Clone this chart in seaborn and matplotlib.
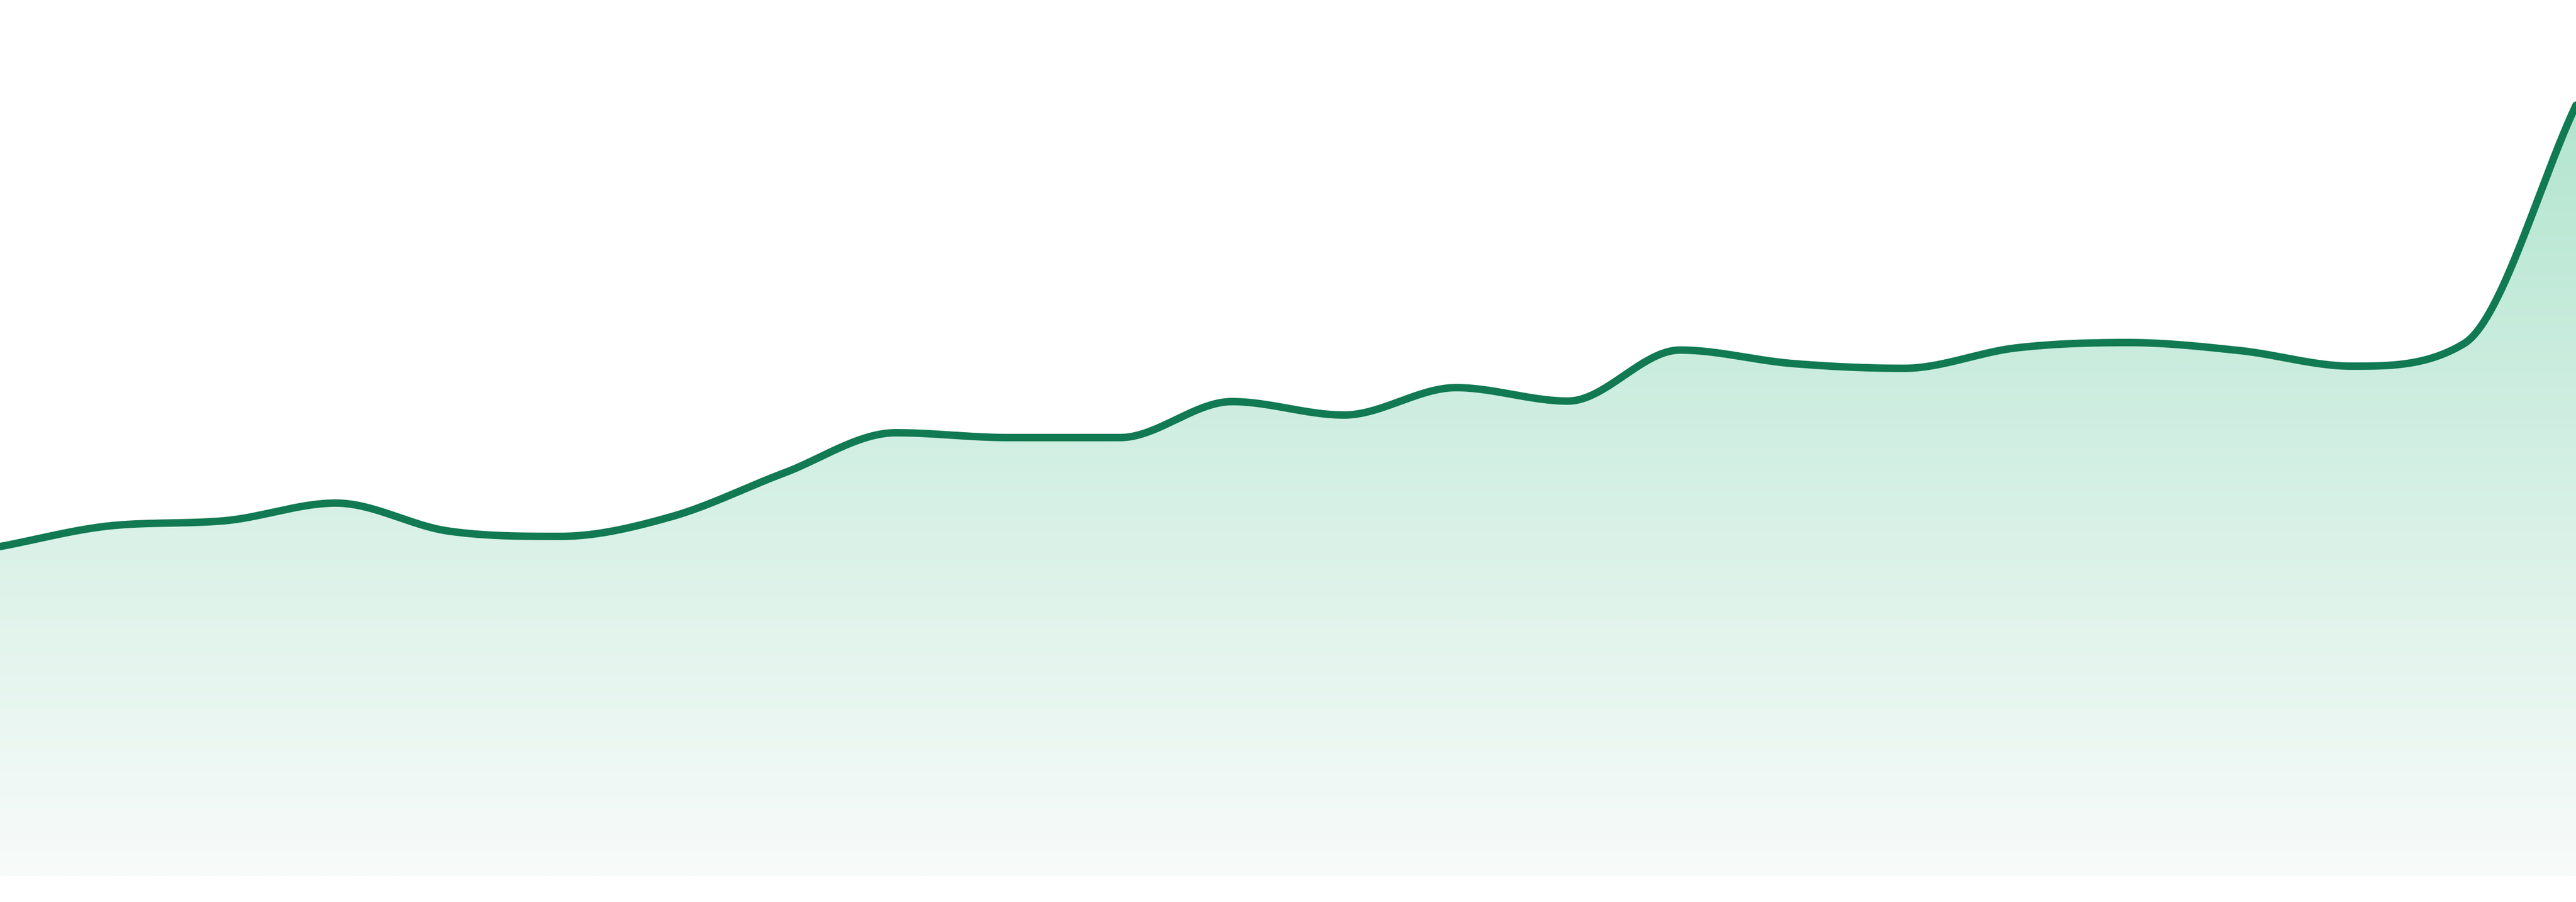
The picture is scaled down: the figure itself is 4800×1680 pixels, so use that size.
import numpy as np
import matplotlib.pyplot as plt
from matplotlib.colors import LinearSegmentedColormap
from matplotlib.patches import Polygon
import seaborn as sns

# readings, one per period, left to right
periods = list(range(24))
values = [61.4, 65.3, 66.2, 69.5, 64.3, 63.3, 67.0, 75.1, 82.6, 81.7, 81.7, 88.4,
          85.9, 91.0, 88.5, 98.0, 95.5, 94.6, 98.4, 99.4, 97.9, 95.0, 99.2, 143.6]

LINE = "#117a52"
FILL_TOP = "#b3e5d0"
FILL_BOTTOM = "#f8fbfa"


def monotone_curve(x, y, steps=80):
    # Fritsch-Carlson monotone cubic (as web line charts do for "monotone")
    x = np.asarray(x, float)
    y = np.asarray(y, float)
    n = len(x)
    h = np.diff(x)
    d = np.diff(y) / h
    m = np.zeros(n)
    m[0], m[-1] = d[0], d[-1]
    for i in range(1, n - 1):
        m[i] = 0.0 if np.sign(d[i - 1]) != np.sign(d[i]) else (d[i - 1] + d[i]) / 2
    for i in range(n - 1):
        if abs(d[i]) < 1e-9:
            m[i] = m[i + 1] = 0.0
            continue
        a, b = m[i] / d[i], m[i + 1] / d[i]
        sq = a * a + b * b
        if sq > 9:
            tau = 3 / np.sqrt(sq)
            m[i], m[i + 1] = a * tau * d[i], b * tau * d[i]

    xs, ys = [], []
    for i in range(n - 1):
        u = np.linspace(0, 1, steps, endpoint=(i == n - 2))
        h00 = 2 * u**3 - 3 * u**2 + 1
        h10 = u**3 - 2 * u**2 + u
        h01 = -2 * u**3 + 3 * u**2
        h11 = u**3 - u**2
        xs.append(x[i] + u * h[i])
        ys.append(h00 * y[i] + h10 * h[i] * m[i] + h01 * y[i + 1] + h11 * h[i] * m[i + 1])
    return np.concatenate(xs), np.concatenate(ys)


xs, ys = monotone_curve(periods, values)

sns.set_theme(style="white")
fig = plt.figure(figsize=(48, 16.8), dpi=100)
ax = fig.add_axes([0, 0, 1, 1])

# gradient area under the line
verts = np.column_stack([np.r_[xs, xs[-1], xs[0]], np.r_[ys, 0, 0]])
area = Polygon(verts, closed=True, facecolor="none", edgecolor="none")
ax.add_patch(area)
cmap = LinearSegmentedColormap.from_list("area", [FILL_BOTTOM, FILL_TOP])
grad = np.linspace(1, 0, 512).reshape(-1, 1)
im = ax.imshow(grad, cmap=cmap, aspect="auto", origin="upper",
               extent=[periods[0], periods[-1], 0, max(values)], zorder=1)
im.set_clip_path(area)

sns.lineplot(x=xs, y=ys, color=LINE, linewidth=10, sort=False, estimator=None,
             solid_capstyle="round", ax=ax, zorder=3)

ax.set_xlim(periods[0], periods[-1])
ax.set_ylim(-4.8, 163.2)
ax.axis("off")

fig.savefig("out.png", dpi=100, facecolor="white")
